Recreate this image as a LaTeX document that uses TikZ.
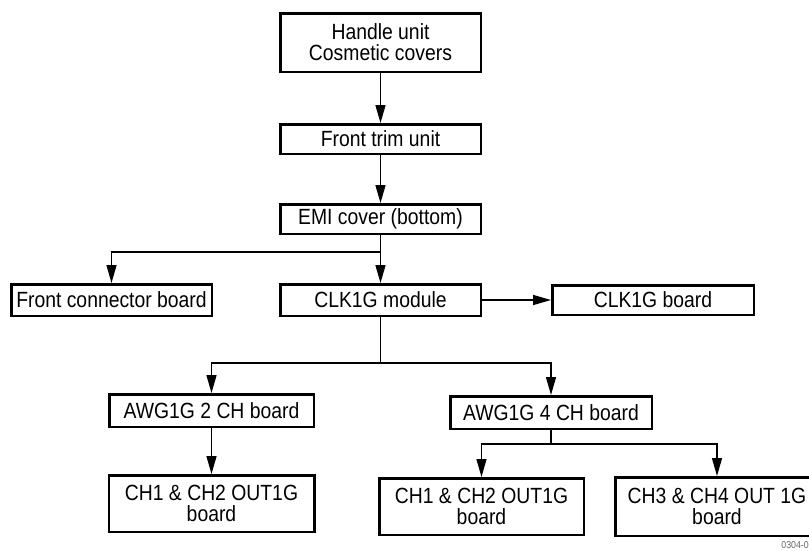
\documentclass[tikz,border=0pt]{standalone}
\usepackage{fontspec}
\setmainfont{Liberation Sans}[FakeStretch=0.88]
\usepackage{tikz}
\usetikzlibrary{positioning}
\usetikzlibrary{arrows.meta}
\tikzstyle{block} = [rectangle, draw, line width=2.5pt, fill=white,
    minimum width=200.5pt, minimum height=29.5pt, inner sep=0pt, align=center,
    font=\fontsize{22}{21}\selectfont]
\tikzstyle{tallblock} = [block, minimum height=57.5pt]
\tikzstyle{line} = [draw, line width=1.4pt, -{Triangle[length=18pt, width=10pt]}]
\tikzstyle{wire} = [draw, line width=1.4pt]

\begin{document}
\begin{tikzpicture}[x=1pt, y=1pt, node distance=48pt]
        \useasboundingbox (0,0) rectangle (809,-550);
        % nodes
        \node [tallblock, minimum height=58.5pt] (handle) at (380.5,-42.5) {Handle unit\\Cosmetic covers};
        \node [block, below=50pt of handle] (trim) {Front trim unit};
        \node [block, below=of trim] (emi) {EMI cover (bottom)};
        \node [block, minimum height=31.5pt, below=of emi] (clkmod) {CLK1G module};
        \node [block, minimum height=31.5pt, left=66pt of clkmod] (frontcon) {Front connector board};
        \node [block, minimum width=201.5pt, right=69pt of clkmod] (clkbrd) {CLK1G board};
        \node [block, minimum width=204.5pt, minimum height=32.5pt, below=76pt of clkmod, xshift=-169pt] (awg2) {AWG1G 2 CH board};
        \node [block, minimum width=201.5pt, minimum height=32.5pt, below=78pt of clkmod, xshift=170.5pt] (awg4) {AWG1G 4 CH board};
        \node [tallblock, minimum width=205.5pt, minimum height=56.5pt, below=46pt of awg2] (outa) {CH1 \& CH2 OUT1G\\board};
        \node [tallblock, minimum width=204.5pt, minimum height=56.5pt, below=47pt of awg4, xshift=-69.5pt] (outb) {CH1 \& CH2 OUT1G\\board};
        \node [tallblock, minimum width=203.5pt, minimum height=58.5pt, below=46pt of awg4, xshift=166pt] (outc) {CH3 \& CH4 OUT 1G\\board};
        \node [anchor=east, inner sep=0pt, text=black!60, font=\fontsize{10}{10}\selectfont] (figno) at (809,-545) {0304-0};
        % split points
        \coordinate [below=17pt of emi] (emisplit);
        \coordinate [below=46pt of clkmod] (clksplit);
        \coordinate [below=14pt of awg4] (awgsplit);
        % edges
        \path [line] (handle) -- (trim);
        \path [line] (trim) -- (emi);
        \path [line] (emi) -- (clkmod);
        \path [line] (emisplit) -| (frontcon);
        \path [line] (clkmod) -- (clkbrd);
        \path [wire] (clkmod) -- (clksplit);
        \path [line] (clksplit) -| (awg2);
        \path [line] (clksplit) -| (awg4);
        \path [line] (awg2) -- (outa);
        \path [wire] (awg4) -- (awgsplit);
        \path [line] (awgsplit) -| (outb);
        \path [line] (awgsplit) -| (outc);
    \end{tikzpicture}
\end{document}
